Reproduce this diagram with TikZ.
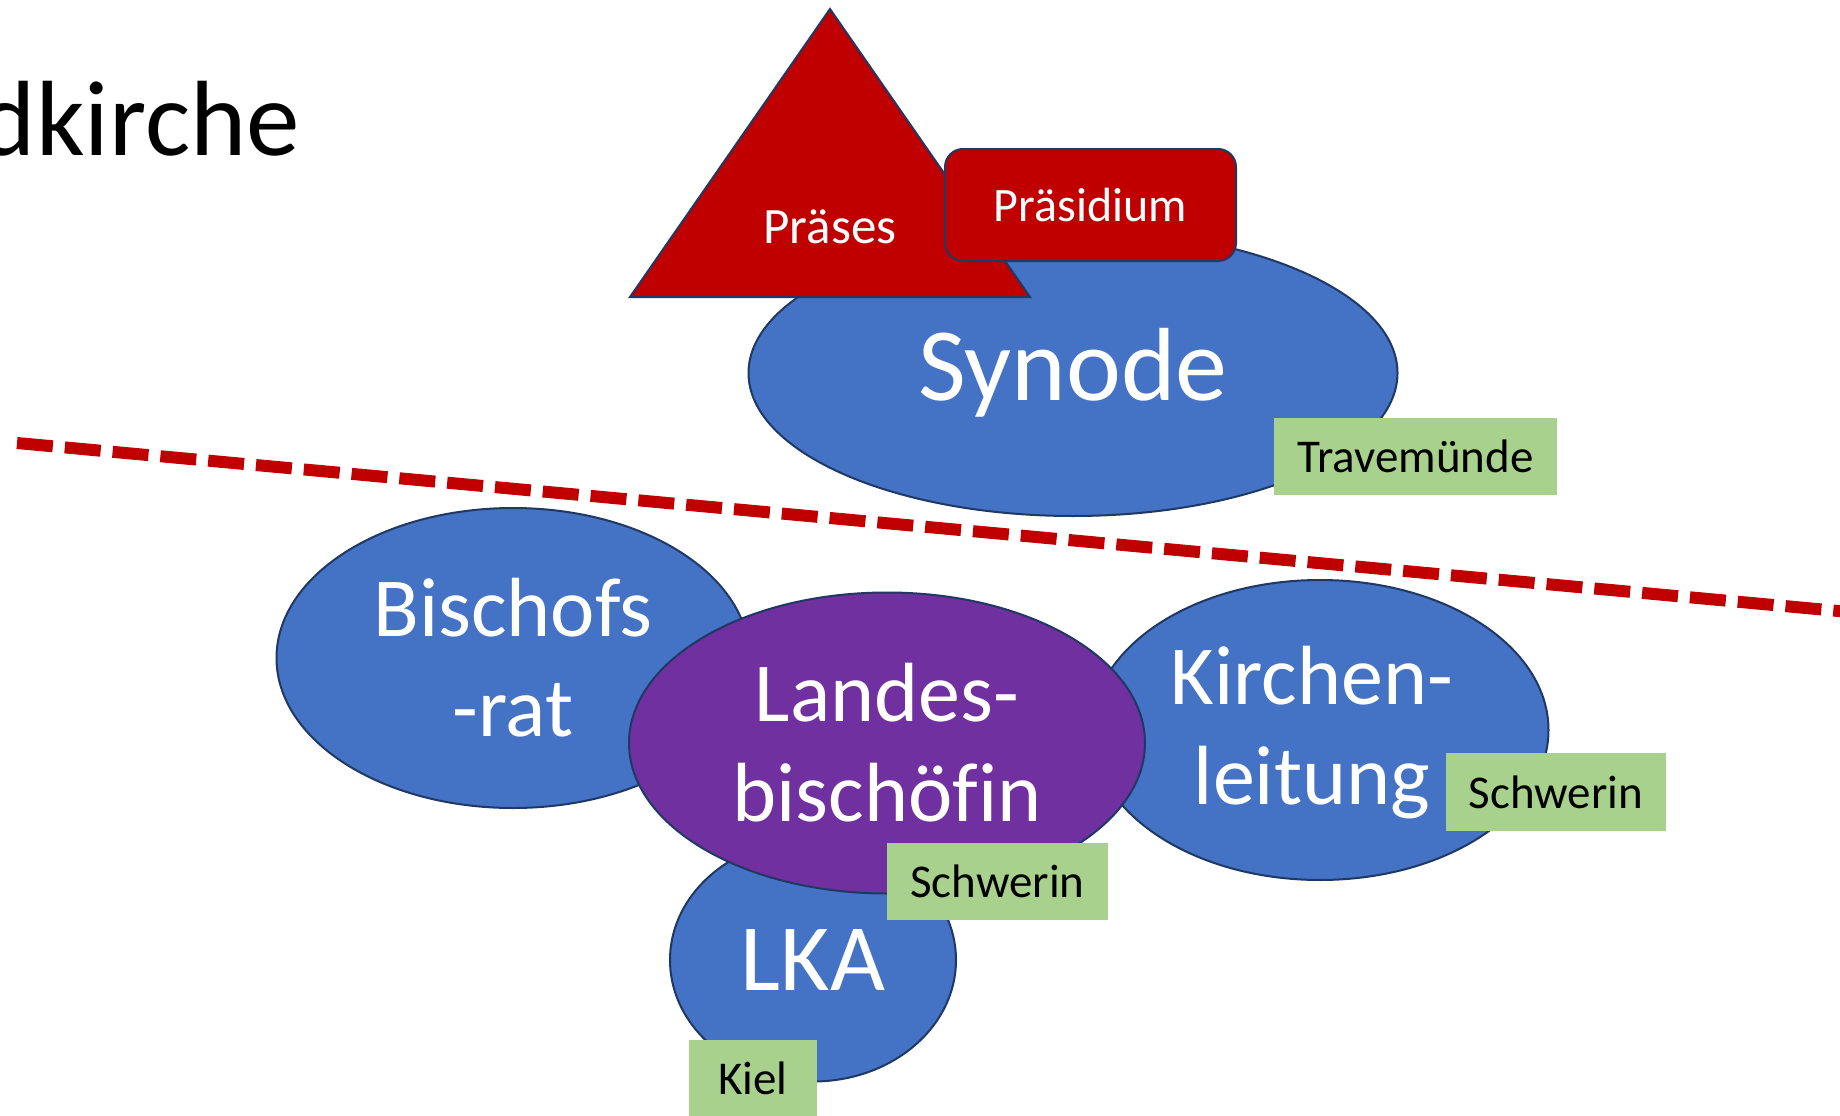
\documentclass[tikz,border=0pt]{standalone}
\usepackage{fontspec}
\setmainfont{Carlito}[Ligatures=NoCommon]
\usetikzlibrary{shapes.geometric}
\definecolor{blueF}{HTML}{4472C4}
\definecolor{outl}{HTML}{1F3864}
\definecolor{redF}{HTML}{C00000}
\definecolor{greenF}{HTML}{A9D18E}
\definecolor{purpF}{HTML}{7030A0}
\tikzset{
  organ/.style={ellipse, draw=outl, line width=2pt, fill=blueF, text=white, inner sep=0pt, align=center},
  redbox/.style={rectangle, rounded corners=18pt, draw=outl, line width=2pt, fill=redF, text=white, inner sep=0pt},
  place/.style={rectangle, fill=greenF, text=black, inner sep=0pt, font=\fontsize{47}{47}\selectfont},
  divider/.style={draw=redF, line width=12pt, dash pattern=on 36pt off 12pt},
  bigtxt/.style={font=\fontsize{84}{100}\selectfont}
}
\begin{document}
\begin{tikzpicture}[x=1pt,y=-1pt]
\useasboundingbox (0,0) rectangle (1840,1116);
\clip (0,0) rectangle (1840,1116);
\fill[white] (0,0) rectangle (1840,1116);
% title
\node (title) [anchor=base east, inner sep=0pt, font=\fontsize{107}{107}\selectfont] at (300,155) {dkirche};
% Synode
\node (syn) [organ, minimum width=649pt, minimum height=286pt, font=\fontsize{104}{104}\selectfont] at (1073,373) {Synode};
% Praeses triangle
\coordinate (tA) at (830,9);
\coordinate (tL) at (630,297);
\coordinate (tR) at (1030,297);
\draw[outl, line width=2pt, fill=redF, line join=miter] (tA) -- (tR) -- (tL) -- cycle;
\node (praeses) [anchor=base, text=white, inner sep=0pt, font=\fontsize{51}{51}\selectfont] at (830,243) {Präses};
% Praesidium
\node (praesidium) [redbox, minimum width=291pt, minimum height=112pt, font=\fontsize{48}{48}\selectfont] at (1090.5,205) {Präsidium};
\node (trave) [place, minimum width=283pt, minimum height=77pt] at (1415.5,456.5) {Travemünde};
% divider
\coordinate (dA) at (17,443);
\coordinate (dB) at (1860,613);
\draw[divider] (dA) -- (dB);
% lower organs
\node (bisrat) [organ, minimum width=473pt, minimum height=300pt, bigtxt] at (513,658) {Bischofs\\-rat};
\node (kl) [organ, minimum width=457pt, minimum height=300pt] at (1320,730) {};
\node (kltxt) [bigtxt, text=white, align=center, inner sep=0pt] at (1312,733) {Kirchen-\\leitung};
\node (lka) [organ, minimum width=286pt, minimum height=243pt, font=\fontsize{95}{95}\selectfont] at (813,960) {LKA};
\node (lb) [organ, fill=purpF, minimum width=516pt, minimum height=301pt, bigtxt] at (887,743) {Landes-\\bischöfin};
% places
\node (schw1) [place, minimum width=221pt, minimum height=77pt] at (997.5,881.5) {Schwerin};
\node (schw2) [place, minimum width=220pt, minimum height=78pt] at (1556,792) {Schwerin};
\node (kiel) [place, minimum width=128pt, minimum height=76pt] at (753,1078) {Kiel};
\end{tikzpicture}
\end{document}
